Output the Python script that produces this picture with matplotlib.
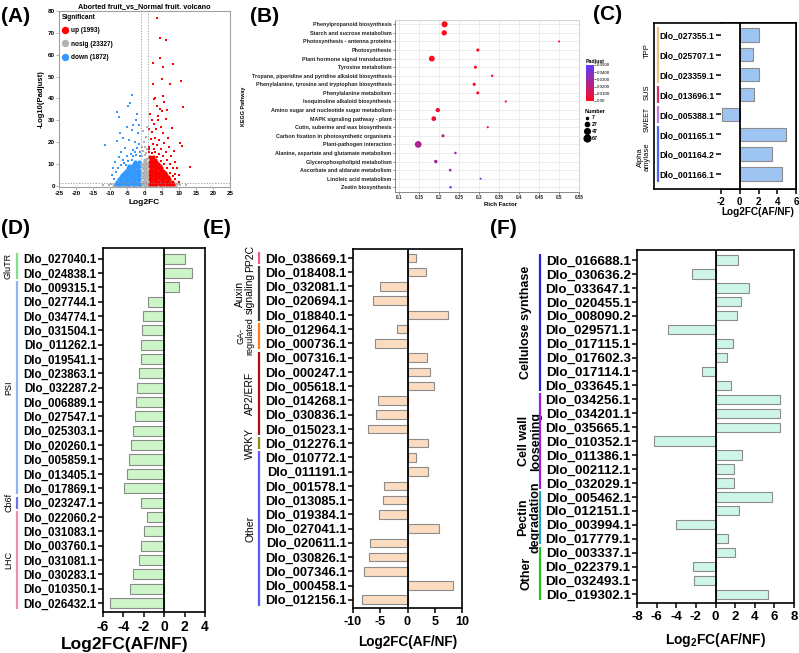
import numpy as np
import matplotlib
matplotlib.use('Agg')
import matplotlib.pyplot as plt
from matplotlib import transforms
from matplotlib.colors import LinearSegmentedColormap, Normalize
from matplotlib.cm import ScalarMappable
from matplotlib.lines import Line2D

plt.rcParams['font.family'] = ['Liberation Sans', 'DejaVu Sans']
plt.rcParams['mathtext.fontset'] = 'custom'
plt.rcParams['mathtext.rm'] = 'Liberation Sans'
plt.rcParams['mathtext.bf'] = 'Liberation Sans:bold'
plt.rcParams['axes.unicode_minus'] = False

W, H = 799, 653

# ---------------- (A) volcano ----------------
sig_names = ['up', 'nosig', 'down']
sig_counts = [1993, 23327, 1872]

nosig_core = [(-9, 0.5), (-8.2, 0.8), (-7.5, 0.5), (-6.7, 0.8), (-6, 0.5), (-5.2, 0.8), (-4.5, 0.5),
              (-3.7, 0.8), (-3, 0.5), (-2.2, 0.8), (-1.5, 0.5), (-0.7, 0.8), (0, 0.5), (0.7, 0.8),
              (1.5, 0.5), (2.2, 0.8), (3, 0.5), (3.7, 0.8), (4.5, 0.5), (5.2, 0.8), (6, 0.5),
              (6.7, 0.8), (7.5, 0.5), (8.2, 0.8), (9, 0.5),
              (-0.5, 2), (0.4, 2), (0, 3), (-0.5, 4), (0.4, 4), (0, 5), (-0.5, 6), (0.4, 6), (0, 7),
              (-0.5, 8), (0.4, 8), (0, 9), (-0.4, 10), (0.3, 10), (0, 11), (0, 12)]
nosig_pts = [(0, 14), (-0.4, 16), (0.5, 15), (0.2, 18), (-0.6, 13.5), (0.7, 12.5), (-0.2, 20),
             (0.4, 22.5), (-10.5, 0.6), (10.5, 0.5), (-12, 0.3), (12, 0.4), (-0.8, 18), (0.8, 17),
             (-9.8, 1.0), (9.8, 1.0), (-0.3, 25), (0.6, 27)]

down_core = [(-1.5, 1), (-2.5, 1), (-3.5, 1), (-4.5, 1), (-5.5, 1), (-6.5, 1), (-7.5, 1), (-8.4, 1),
             (-2.0, 2), (-3.0, 2), (-4.0, 2), (-5.0, 2), (-6.0, 2), (-7.0, 2), (-7.9, 2),
             (-1.5, 3), (-2.5, 3), (-3.5, 3), (-4.5, 3), (-5.5, 3), (-6.5, 3), (-7.5, 3),
             (-2.0, 4), (-3.0, 4), (-4.0, 4), (-5.0, 4), (-6.0, 4), (-6.9, 4),
             (-1.5, 5), (-2.5, 5), (-3.5, 5), (-4.5, 5), (-5.5, 5), (-6.5, 5),
             (-2.0, 6), (-3.0, 6), (-4.0, 6), (-5.0, 6), (-5.9, 6),
             (-1.5, 7), (-2.5, 7), (-3.5, 7), (-4.5, 7), (-5.5, 7),
             (-2.0, 8), (-3.0, 8), (-4.0, 8), (-4.9, 8),
             (-1.6, 9), (-2.6, 9), (-3.6, 9), (-4.6, 9), (-2.1, 10), (-3.1, 10),
             (-1.7, 11), (-2.7, 11)]
down_pts = [(-3.7, 41.8), (-4.3, 37.9), (-4.8, 36.5), (-7.9, 33.6), (-7.6, 31.3), (-11.5, 18.9),
            (-2.1, 33.1), (-3.3, 27.8), (-5.2, 27.0), (-3.7, 25.5), (-7.1, 24), (-6.2, 22.1),
            (-1.5, 28), (-2.6, 30), (-1.8, 24), (-4.4, 21), (-2.9, 20), (-8.0, 20.5), (-5.6, 17.5),
            (-3.3, 16.5), (-6.8, 15.5), (-1.5, 19), (-2.3, 17.5), (-4.0, 14.5), (-7.5, 13),
            (-8.6, 11), (-9.2, 8), (-9.6, 5), (-5.2, 13.5), (-6.3, 12), (-2.4, 14), (-1.4, 13.5),
            (-3.4, 13.5), (-7.0, 9.5), (-8.2, 6.5), (-6.0, 10.5), (-4.8, 11.5), (-3.8, 12),
            (-1.3, 15.5), (-2.9, 15.5), (-5.5, 9.5), (-8.9, 3), (-7.8, 8)]

up_core = [(1.5, 1), (2.5, 1), (3.5, 1), (4.5, 1), (5.5, 1), (6.5, 1), (7.5, 1), (8.3, 1),
           (2.0, 2), (3.0, 2), (4.0, 2), (5.0, 2), (6.0, 2), (7.0, 2), (7.9, 2),
           (1.5, 3), (2.5, 3), (3.5, 3), (4.5, 3), (5.5, 3), (6.5, 3), (7.3, 3),
           (2.0, 4), (3.0, 4), (4.0, 4), (5.0, 4), (6.0, 4), (6.9, 4),
           (1.5, 5), (2.5, 5), (3.5, 5), (4.5, 5), (5.5, 5), (6.4, 5),
           (2.0, 6), (3.0, 6), (4.0, 6), (5.0, 6), (5.9, 6),
           (1.5, 7), (2.5, 7), (3.5, 7), (4.5, 7), (5.4, 7),
           (2.0, 8), (3.0, 8), (4.0, 8), (4.9, 8),
           (1.5, 9), (2.5, 9), (3.5, 9), (4.4, 9), (2.0, 10), (3.0, 10), (3.9, 10),
           (1.5, 11), (2.5, 11), (3.4, 11), (2.0, 12), (3.0, 12), (1.6, 13), (2.6, 13)]
up_pts = [(3.6, 77), (4.5, 67.5), (6.2, 66.7), (2.6, 56.3), (4.6, 58.3), (8.4, 55.6), (10.7, 48.2),
          (5.0, 48.8), (2.4, 46.6), (7.4, 46.4), (5.3, 54.5), (11.2, 36), (2.7, 39.7), (3.2, 40.4),
          (5.5, 41.2), (5.6, 38.2), (3.6, 36.6), (4.6, 35.4), (5.1, 34.2), (7.9, 26.3), (3.9, 31.9),
          (6.2, 30.7), (10.4, 19.7), (11.1, 18.3), (13.2, 8.7), (10.0, 1.8), (4.0, 30), (6.5, 34.6),
          (1.6, 33), (2.1, 30), (2.9, 28.5), (1.4, 26), (3.5, 26), (4.8, 27), (2.2, 24.5), (5.5, 24),
          (6.8, 22), (1.8, 21.5), (3.0, 22), (4.2, 21), (5.8, 19.5), (7.2, 18), (8.5, 16), (1.3, 18),
          (2.6, 19), (3.6, 18.5), (4.8, 17), (6.4, 15.5), (7.8, 13.5), (9.0, 11), (9.6, 8), (10.2, 5),
          (8.8, 3), (1.2, 15.5), (2.2, 15), (3.2, 15.5), (4.3, 14.5), (5.4, 13.5), (6.7, 12),
          (7.6, 10), (8.3, 8), (9.0, 5.5), (4.8, 11.5), (5.8, 10), (6.6, 8), (7.4, 6), (8.2, 4.5),
          (1.4, 17), (3.7, 13), (2.8, 17)]

# ---------------- (B) KEGG ----------------
kegg_terms = ['Phenylpropanoid biosynthesis', 'Starch and sucrose metabolism',
              'Photosynthesis - antenna proteins', 'Photosynthesis',
              'Plant hormone signal transduction', 'Tyrosine metabolism',
              'Tropane, piperidine and pyridine alkaloid biosynthesis',
              'Phenylalanine, tyrosine and tryptophan biosynthesis', 'Phenylalanine metabolism',
              'Isoquinoline alkaloid biosynthesis', 'Amino sugar and nucleotide sugar metabolism',
              'MAPK signaling pathway - plant', 'Cutin, suberine and wax biosynthesis',
              'Carbon fixation in photosynthetic organisms', 'Plant-pathogen interaction',
              'Alanine, aspartate and glutamate metabolism', 'Glycerophospholipid metabolism',
              'Ascorbate and aldarate metabolism', 'Linoleic acid metabolism', 'Zeatin biosynthesis']
kegg_rich = [0.214, 0.213, 0.50, 0.297, 0.182, 0.291, 0.333, 0.288, 0.297, 0.367,
             0.197, 0.187, 0.322, 0.210, 0.148, 0.241, 0.192, 0.228, 0.304, 0.229]
kegg_padj = [0.0, 0.0, 0.001, 0.002, 0.0, 0.002, 0.003, 0.003, 0.003, 0.004,
             0.004, 0.005, 0.006, 0.023, 0.025, 0.030, 0.028, 0.030, 0.042, 0.048]
kegg_num = [55, 42, 6, 15, 50, 14, 9, 15, 14, 7, 28, 33, 7, 14, 67, 9, 18, 11, 6, 9]
num_legend = [7, 27, 47, 67]

# ---------------- (C) ----------------
c_genes = ['Dlo_027355.1', 'Dlo_025707.1', 'Dlo_023359.1', 'Dlo_013696.1',
           'Dlo_005388.1', 'Dlo_001165.1', 'Dlo_001164.2', 'Dlo_001166.1']
c_vals = [2.1, 1.4, 2.0, 1.5, -1.9, 4.9, 3.4, 4.5]
c_groups = ['TPP', 'SUS', 'SWEET', 'Alpha\namylase']
c_rows = [(0, 2), (3, 3), (4, 4), (5, 7)]

# ---------------- (D) ----------------
d_genes = ['Dlo_027040.1', 'Dlo_024838.1', 'Dlo_009315.1', 'Dlo_027744.1', 'Dlo_034774.1',
           'Dlo_031504.1', 'Dlo_011262.1', 'Dlo_019541.1', 'Dlo_023863.1', 'Dlo_032287.2',
           'Dlo_006889.1', 'Dlo_027547.1', 'Dlo_025303.1', 'Dlo_020260.1', 'Dlo_005859.1',
           'Dlo_013405.1', 'Dlo_017869.1', 'Dlo_023247.1', 'Dlo_022060.2', 'Dlo_031083.1',
           'Dlo_003760.1', 'Dlo_031081.1', 'Dlo_030283.1', 'Dlo_010350.1', 'Dlo_026432.1']
d_vals = [2.0, 2.75, 1.5, -1.6, -2.1, -2.2, -2.3, -2.3, -2.45, -2.65, -2.75, -2.9, -3.05,
          -3.3, -3.5, -3.65, -3.9, -2.3, -1.65, -2.0, -2.3, -2.45, -3.05, -3.35, -5.3]
d_groups = ['GluTR', 'PSI', 'Cb6f', 'LHC']
d_rows = [(0, 1), (2, 16), (17, 17), (18, 24)]

# ---------------- (E) ----------------
e_genes = ['Dlo_038669.1', 'Dlo_018408.1', 'Dlo_032081.1', 'Dlo_020694.1', 'Dlo_018840.1',
           'Dlo_012964.1', 'Dlo_000736.1', 'Dlo_007316.1', 'Dlo_000247.1', 'Dlo_005618.1',
           'Dlo_014268.1', 'Dlo_030836.1', 'Dlo_015023.1', 'Dlo_012276.1', 'Dlo_010772.1',
           'Dlo_011191.1', 'Dlo_001578.1', 'Dlo_013085.1', 'Dlo_019384.1', 'Dlo_027041.1',
           'Dlo_020611.1', 'Dlo_030826.1', 'Dlo_007346.1', 'Dlo_000458.1', 'Dlo_012156.1']
e_vals = [1.5, 3.35, -5.0, -6.4, 7.45, -1.9, -6.0, 3.6, 4.15, 4.9, -5.4, -5.7, -7.2, 3.7,
          1.65, 3.7, -4.3, -4.45, -5.2, 5.8, -6.85, -7.0, -7.95, 8.3, -8.3]
e_groups = ['PP2C', 'Auxin\nsignaling', 'GA-\nregulated', 'AP2/ERF', 'WRKY', 'Other']
e_rows = [(0, 0), (1, 4), (5, 6), (7, 12), (13, 13), (14, 24)]

# ---------------- (F) ----------------
f_genes = ['Dlo_016688.1', 'Dlo_030636.2', 'Dlo_033647.1', 'Dlo_020455.1', 'Dlo_008090.2',
           'Dlo_029571.1', 'Dlo_017115.1', 'Dlo_017602.3', 'Dlo_017114.1', 'Dlo_033645.1',
           'Dlo_034256.1', 'Dlo_034201.1', 'Dlo_035665.1', 'Dlo_010352.1', 'Dlo_011386.1',
           'Dlo_002112.1', 'Dlo_032029.1', 'Dlo_005462.1', 'Dlo_012151.1', 'Dlo_003994.1',
           'Dlo_017779.1', 'Dlo_003337.1', 'Dlo_022379.1', 'Dlo_032493.1', 'Dlo_019302.1']
f_vals = [2.3, -2.4, 3.45, 2.55, 2.15, -4.8, 1.8, 1.2, -1.37, 1.6, 6.6, 6.6, 6.6, -6.3,
          2.7, 1.9, 1.9, 5.8, 2.42, -4.0, 1.3, 2.0, -2.3, -2.2, 5.3]
f_groups = ['Cellulose synthase', 'Cell wall\nloosening', 'Pectin\ndegradation', 'Other']
f_rows = [(0, 9), (10, 16), (17, 20), (21, 24)]


def rect(l, t, r, b):
    return [l / W, 1 - b / H, (r - l) / W, (b - t) / H]


def ftext(x, y, s, **kw):
    fig.text(x / W, 1 - y / H, s, **kw)


def bold_ticks(ax):
    for lbl in ax.get_xticklabels() + ax.get_yticklabels():
        lbl.set_fontweight('bold')


fig = plt.figure(figsize=(W / 100, H / 100), dpi=100)

# ---- A ----
ax = fig.add_axes(rect(59, 11, 230, 187))
for core, pts, col in [(nosig_core, nosig_pts, '#B3B3B3'),
                       (down_core, down_pts, '#3399FF'),
                       (up_core, up_pts, '#FF0000')]:
    cx, cy = np.array(core).T
    px_, py_ = np.array(pts).T
    ax.scatter(cx, cy, s=9, marker='o', color=col, lw=0)
    ax.scatter(px_, py_, s=3, marker='s', color=col, lw=0)
for v in (-1, 1):
    ax.axvline(v, color='#888888', lw=0.5, ls=(0, (2, 2)))
ax.axhline(1.3, color='#888888', lw=0.5, ls=(0, (2, 2)))
ax.set_xlim(-25, 25)
ax.set_ylim(-0.5, 80)
ax.set_xticks(np.arange(-25, 26, 5))
ax.set_yticks(np.arange(0, 81, 10))
ax.tick_params(labelsize=4.5, length=2, width=0.5, color='#999999', pad=1)
bold_ticks(ax)
for sp in ax.spines.values():
    sp.set_color('#A0A0A0')
    sp.set_linewidth(0.8)
ax.set_title('Aborted fruit_vs_Normal fruit. volcano', fontsize=5.2, fontweight='bold', pad=2)
ax.set_xlabel('Log2FC', fontsize=6, fontweight='bold', labelpad=2)
ax.set_ylabel('-Log10(Padjust)', fontsize=5.5, fontweight='bold', labelpad=2)
handles = [Line2D([], [], ls='', marker='o', markersize=4.3, color=c)
           for c in ['#FF0000', '#B3B3B3', '#3399FF']]
labels = ['%s (%d)' % (nm, c) for nm, c in zip(sig_names, sig_counts)]
ax.legend(handles, labels, title='Significant', loc='upper left', frameon=False,
          prop={'size': 4.7, 'weight': 'bold'}, title_fontproperties={'size': 4.7, 'weight': 'bold'},
          labelspacing=1.0, handletextpad=0.5, handlelength=1.0, borderaxespad=0.3,
          borderpad=0.1, alignment='left')

# ---- B ----
cmap = LinearSegmentedColormap.from_list('padj', ['#FF0A1E', '#5A3DFF'])
norm = Normalize(0, 0.05)
ax = fig.add_axes(rect(395, 20, 579, 192))
ax.grid(True, color='#E6E6E6', lw=0.5)
ax.set_axisbelow(True)
yk = np.arange(len(kegg_terms))
ax.scatter(kegg_rich, yk, s=np.array(kegg_num) * 0.35, c=kegg_padj, cmap=cmap, norm=norm, lw=0, zorder=3)
ax.set_xlim(0.09, 0.55)
ax.set_ylim(len(kegg_terms) - 0.45, -0.5)
ax.set_xticks(np.arange(0.1, 0.551, 0.05), ['0.1', '0.15', '0.2', '0.25', '0.3', '0.35', '0.4', '0.45', '0.5', '0.55'])
ax.set_yticks(yk, kegg_terms)
ax.tick_params(labelsize=3.9, length=1.5, width=0.4, pad=1, colors='#222222')
ax.tick_params(axis='x', labelsize=3.3)
bold_ticks(ax)
for name, sp in ax.spines.items():
    sp.set_linewidth(0.6)
    sp.set_color('#777777' if name in ('left', 'bottom') else '#CCCCCC')
ftext(243, 106, 'KEGG Pathway', rotation=90, fontsize=3.9, fontweight='bold', ha='center', va='center')
ftext(501, 204, 'Rich Factor', fontsize=4.3, fontweight='bold', ha='center', va='center')
cax = fig.add_axes(rect(586, 65, 594, 101))
cb = fig.colorbar(ScalarMappable(norm=norm, cmap=cmap), cax=cax)
cb.set_ticks([0, 0.01, 0.02, 0.03, 0.04, 0.05], labels=['0.00', '0.0100', '0.0200', '0.0300', '0.0400', '0.0500'])
cb.outline.set_visible(False)
cax.tick_params(labelsize=3.2, length=1.2, width=0.4, pad=1)
ftext(586, 61, 'Padjust', fontsize=3.8, fontweight='bold', va='center')
nh = [Line2D([], [], ls='', marker='o', color='black', markersize=np.sqrt(n * 0.35)) for n in num_legend]
ax.legend(nh, [str(n) for n in num_legend], title='Number', loc='upper left',
          bbox_to_anchor=(582 / W, 1 - 106 / H), bbox_transform=fig.transFigure, frameon=False,
          prop={'size': 3.8, 'weight': 'bold'}, title_fontproperties={'size': 4, 'weight': 'bold'},
          labelspacing=0.35, handletextpad=0.3, handlelength=1.0, borderpad=0, alignment='left')


# ---- bar panels ----
def bar_panel(box, genes, vals, groups, rows, gcolors, face, xlim, xticks, ylim, bar_h,
              ytick_fs, xtick_fs, line_x, text_x, group_fs, group_bold, text_dy=None):
    l, t, r, b = box
    ax = fig.add_axes(rect(l, t, r, b))
    y = np.arange(len(genes))
    ax.barh(y, vals, height=bar_h, color=face, edgecolor='#8C8C8C', lw=0.8, zorder=2)
    ax.axvline(0, color='black', lw=1.3, zorder=3)
    ax.set_xlim(*xlim)
    ax.set_ylim(*ylim)
    ax.set_xticks(xticks)
    ax.set_yticks(y, genes)
    ax.tick_params(axis='y', labelsize=ytick_fs, length=3.5, width=1.1, pad=1)
    ax.tick_params(axis='x', labelsize=xtick_fs, length=3.5, width=1.1, pad=2)
    bold_ticks(ax)
    for sp in ax.spines.values():
        sp.set_linewidth(1.2)
    tr = transforms.blended_transform_factory(ax.transAxes, ax.transData)
    lx = (line_x - l) / (r - l)
    if text_dy is None:
        text_dy = [0] * len(groups)
    for (s, e), name, c, tx, fs, dy in zip(rows, groups, gcolors, text_x, group_fs, text_dy):
        ax.plot([lx, lx], [s - 0.42, e + 0.42], transform=tr, clip_on=False, color=c, lw=1.6,
                solid_capstyle='butt', zorder=5)
        ax.text((tx - l) / (r - l), (s + e) / 2 + dy, name, transform=tr, rotation=90, ha='center',
                va='center', fontsize=fs, fontweight='bold' if group_bold else 'normal',
                multialignment='center', linespacing=1.0)
    return ax


# C: outer box around labels
box = fig.add_axes(rect(654, 23, 796, 189))
box.set_xticks([])
box.set_yticks([])
for sp in box.spines.values():
    sp.set_linewidth(1.2)
ax = bar_panel((721, 23, 796, 189), c_genes, c_vals, c_groups, c_rows,
               ['#F5BE85', '#D4326A', '#C57AE6', '#4F64F5'], '#9EC5F2',
               (-2, 6), np.arange(-2, 7, 2), (7.76, -0.6), 0.67, 6.2, 7,
               657.5, [647, 647, 647, 644], [5.5, 5.5, 5.0, 5.5], False, [-0.2, -0.1, 0.25, 0.15])
ax.spines['left'].set_visible(False)
ftext(758, 212, 'Log2FC(AF/NF)', fontsize=7.2, fontweight='bold', ha='center', va='center')

# D
bar_panel((103, 248, 205, 612), d_genes, d_vals, d_groups, d_rows,
          ['#7CE38A', '#8FB6F2', '#7070EE', '#F28DB2'], '#CCF5C8',
          (-6, 4), np.arange(-6, 5, 2), (24.63, -0.74), 0.7, 8.3, 10,
          16.7, [8, 9, 9, 9], [6.5] * 4, False)
ftext(125, 644, 'Log2FC(AF/NF)', fontsize=12.5, fontweight='bold', ha='center', va='center')

# E
bar_panel((353, 249, 462, 608), e_genes, e_vals, e_groups, e_rows,
          ['#F0588C', '#3C3C3C', '#FF7A1A', '#A80E14', '#8C8C10', '#5A5AF5'], '#FCDCC0',
          (-10, 10), np.arange(-10, 11, 5), (24.58, -0.63), 0.6, 9.3, 9,
          259, [250, 245, 245, 250, 250, 250], [7.5, 7.5, 6.5, 7.5, 7.5, 7.5], False)
ftext(408, 642, 'Log2FC(AF/NF)', fontsize=9.8, fontweight='bold', ha='center', va='center')

# F
bar_panel((637, 250, 794, 603), f_genes, f_vals, f_groups, f_rows,
          ['#2020E8', '#A020D8', '#1EA6C8', '#22C422'], '#CDF5E8',
          (-8, 8), np.arange(-8, 9, 2), (24.62, -0.72), 0.67, 9.6, 9.5,
          540, [526, 530, 529, 527], [9] * 4, True)
ftext(716, 640, r'$\mathbf{Log_2FC(AF/NF)}$', fontsize=10, ha='center', va='center')

# panel letters
for lab, x, y in [('(A)', 16, 16), ('(B)', 265, 16), ('(C)', 608, 14),
                  ('(D)', 15, 228), ('(E)', 217, 228), ('(F)', 503, 228)]:
    ftext(x, y, lab, fontsize=15, fontweight='bold', ha='center', va='center')

fig.savefig('out.png', dpi=100)
